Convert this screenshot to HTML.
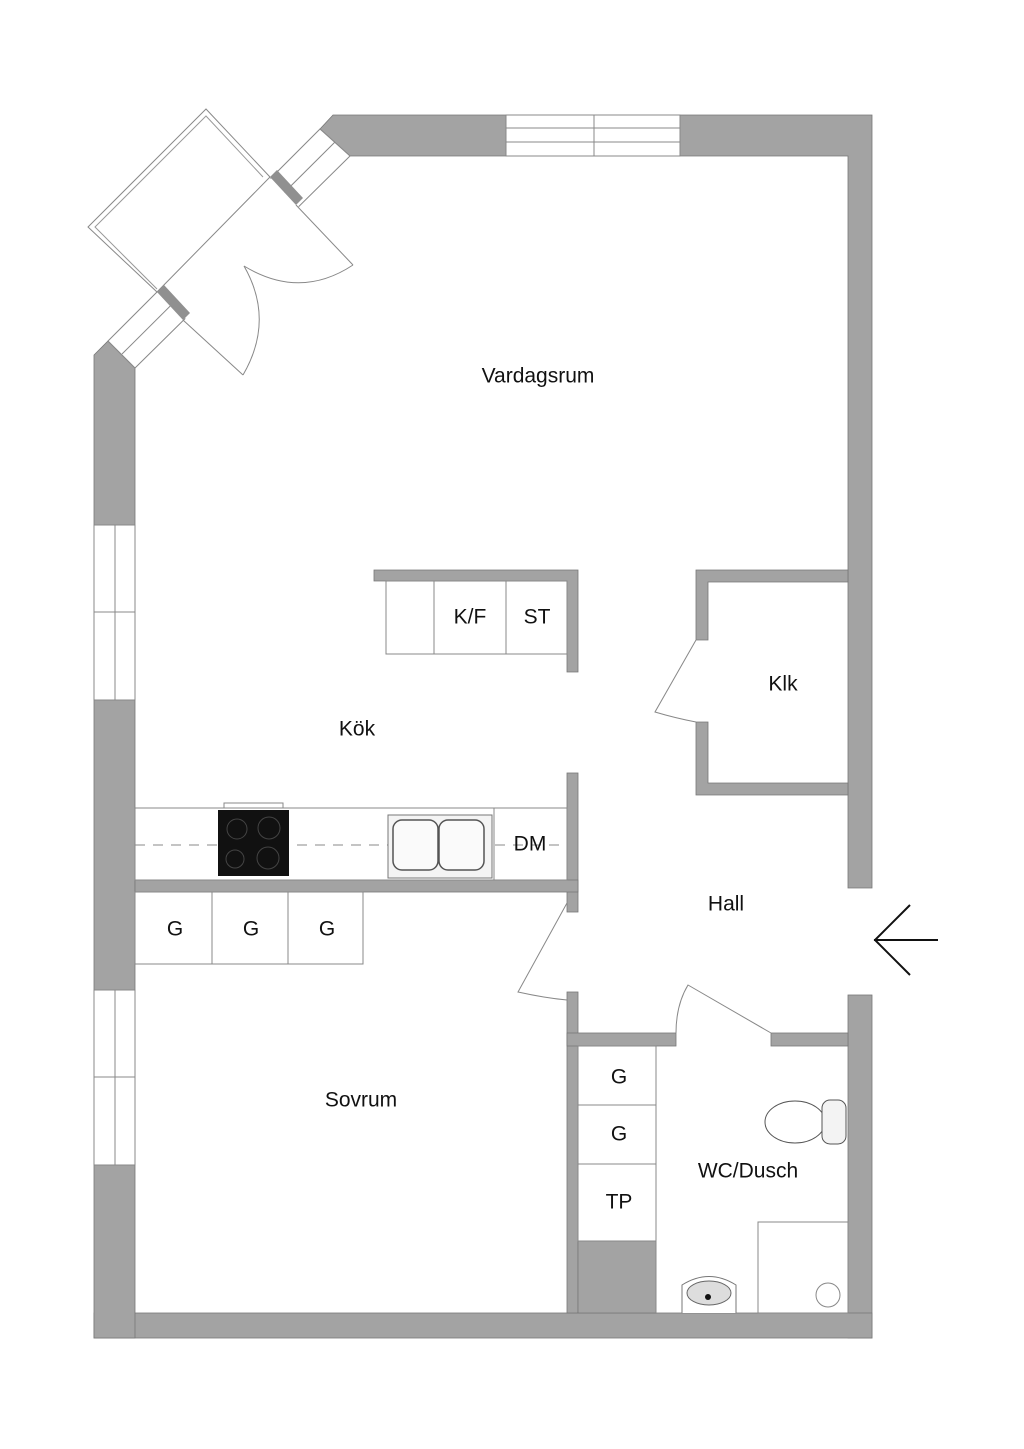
<!DOCTYPE html>
<html><head><meta charset="utf-8"><style>
html,body{margin:0;padding:0;background:#fff}
svg{display:block}
text{font-family:"Liberation Sans",sans-serif;font-size:21px;fill:#111;text-anchor:middle;dominant-baseline:middle}
</style></head><body>
<svg width="1024" height="1449" viewBox="0 0 1024 1449" xmlns="http://www.w3.org/2000/svg">
<g fill="#a3a3a3" stroke="#777" stroke-width="0.8">
<polygon points="320,129 333,115 872,115 872,888 848,888 848,156 350,156"/>
<rect x="848" y="995" width="24" height="343"/>
<rect x="94" y="1313" width="778" height="25"/>
<polygon points="94,355 108,341 135,368 135,1338 94,1338"/>
<polygon points="374,570 578,570 578,672 567,672 567,581 374,581"/>
<polygon points="696,570 848,570 848,582 708,582 708,640 696,640"/>
<polygon points="696,722 708,722 708,783 848,783 848,795 696,795"/>
<rect x="567" y="773" width="11" height="139"/>
<rect x="135" y="880" width="443" height="12"/>
<rect x="567" y="992" width="11" height="321"/>
<rect x="567" y="1033" width="109" height="13"/>
<rect x="771" y="1033" width="77" height="13"/>
<rect x="578" y="1241" width="78" height="72"/>
</g>
<g fill="#fff" stroke="#888" stroke-width="1">
<rect x="506" y="115" width="174" height="41"/>
<line x1="506" y1="128" x2="680" y2="128"/><line x1="506" y1="142" x2="680" y2="142"/>
<line x1="594" y1="115" x2="594" y2="156"/>
<rect x="94" y="525" width="41" height="175"/>
<line x1="115" y1="525" x2="115" y2="700"/><line x1="94" y1="612" x2="135" y2="612"/>
<rect x="94" y="990" width="41" height="175"/>
<line x1="115" y1="990" x2="115" y2="1165"/><line x1="94" y1="1077" x2="135" y2="1077"/>
<polygon points="108,341 320,129 350,156 135,368"/>
<line x1="122" y1="354" x2="335" y2="142"/>
</g>
<!-- opening between jambs -->
<polygon points="268,176 302,210 190,323 156,290" fill="#fff"/>
<!-- bay box -->
<polygon points="206,109 88,227 157,292 270,177" fill="#fff" stroke="#888" stroke-width="1"/>
<polyline points="263,177 206,116 95,227 157,289" fill="none" stroke="#999" stroke-width="1"/>
<polygon points="270,177 277,170 303,198 296,205" fill="#909090"/>
<polygon points="157,292 164,285 190,313 183,320" fill="#909090"/>
<g fill="none" stroke="#888" stroke-width="1">
<line x1="296" y1="205" x2="353" y2="265"/>
<line x1="183" y1="320" x2="243" y2="375"/>
<path d="M353,265 Q300,300 244,266 Q275,320 243,375"/>
<path d="M696,640 L655,712 Q675,718 696,722"/>
<path d="M567,903 L518,992 Q545,998 567,1000"/>
<path d="M771,1033 L688,985 Q676,1005 676,1033"/>
</g>
<g fill="#fff" stroke="#888" stroke-width="1">
<rect x="386" y="581" width="181" height="73"/>
<line x1="434" y1="581" x2="434" y2="654"/><line x1="506" y1="581" x2="506" y2="654"/>
<rect x="135" y="808" width="432" height="72"/>
<line x1="494" y1="808" x2="494" y2="880"/>
<rect x="135" y="892" width="228" height="72"/>
<line x1="212" y1="892" x2="212" y2="964"/><line x1="288" y1="892" x2="288" y2="964"/>
<rect x="578" y="1046" width="78" height="195"/>
<line x1="578" y1="1105" x2="656" y2="1105"/><line x1="578" y1="1164" x2="656" y2="1164"/>
<line x1="656" y1="1046" x2="656" y2="1313"/>
<rect x="758" y="1222" width="90" height="91"/>
<circle cx="828" cy="1295" r="12"/>
</g>
<line x1="135" y1="845" x2="567" y2="845" stroke="#888" stroke-dasharray="10,8"/>
<rect x="224" y="803" width="59" height="5" fill="#fff" stroke="#888"/>
<rect x="218" y="810" width="71" height="66" fill="#111"/>
<g fill="none" stroke="#444"><circle cx="237" cy="829" r="10"/><circle cx="269" cy="828" r="11"/><circle cx="235" cy="859" r="9"/><circle cx="268" cy="858" r="11"/></g>
<rect x="388" y="815" width="104" height="63" fill="#f4f4f4" stroke="#777"/>
<rect x="393" y="820" width="45" height="50" rx="9" fill="#fafafa" stroke="#555" stroke-width="1.5"/>
<rect x="439" y="820" width="45" height="50" rx="9" fill="#fafafa" stroke="#555" stroke-width="1.5"/>
<ellipse cx="795" cy="1122" rx="30" ry="21" fill="#fff" stroke="#555"/>
<rect x="822" y="1100" width="24" height="44" rx="8" fill="#f3f3f3" stroke="#555"/>
<path d="M682,1313 L682,1285 Q709,1268 736,1285 L736,1313" fill="#fff" stroke="#777"/>
<ellipse cx="709" cy="1293" rx="22" ry="12" fill="#ddd" stroke="#666"/>
<circle cx="708" cy="1297" r="3" fill="#111"/>
<g stroke="#111" stroke-width="2" fill="none"><line x1="874" y1="940" x2="938" y2="940"/><polyline points="910,905 875,940 910,975"/></g>
<text x="538" y="377">Vardagsrum</text>
<text x="470" y="618">K/F</text>
<text x="537" y="618">ST</text>
<text x="783" y="685">Klk</text>
<text x="357" y="730">Kök</text>
<text x="530" y="845">DM</text>
<text x="726" y="905">Hall</text>
<text x="175" y="930">G</text>
<text x="251" y="930">G</text>
<text x="327" y="930">G</text>
<text x="361" y="1101">Sovrum</text>
<text x="619" y="1078">G</text>
<text x="619" y="1135">G</text>
<text x="619" y="1203">TP</text>
<text x="748" y="1172">WC/Dusch</text>
</svg>
</body></html>
